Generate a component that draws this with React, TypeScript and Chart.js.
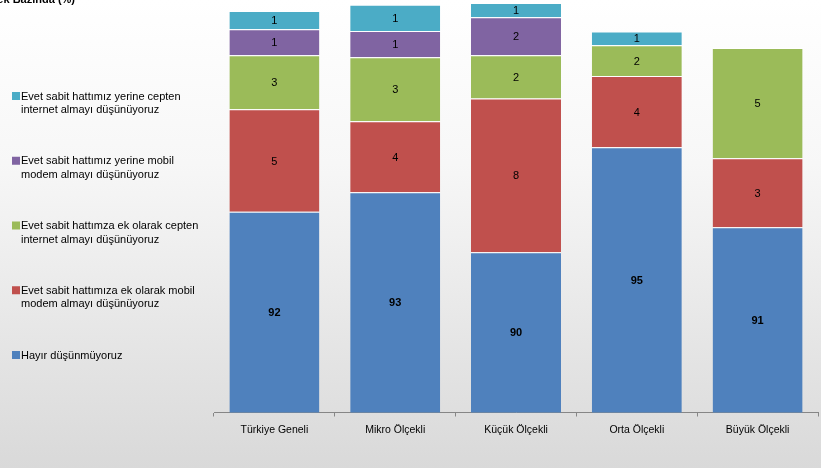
import React, { useEffect, useRef } from "react";
import { Chart, registerables } from "chart.js";

Chart.register(...registerables);

const categories = ["Türkiye Geneli", "Mikro Ölçekli", "Küçük Ölçekli", "Orta Ölçekli", "Büyük Ölçekli"];

const hayirDusunmuyoruz = [91.94, 92.9, 89.93, 95.13, 91.17];
const ekMobilModem = [5.07, 3.52, 7.62, 3.53, 3.42];
const ekCeptenInternet = [2.67, 3.17, 2.13, 1.52, 5.46];
const yerineMobilModem = [1.29, 1.3, 1.88, 0, 0];
const yerineCeptenInternet = [0.91, 1.29, 0.71, 0.68, 0];

const seriesNames = [
  ["Hayır düşünmüyoruz"],
  ["Evet sabit hattımıza ek olarak mobil", "modem almayı düşünüyoruz"],
  ["Evet sabit hattımza ek olarak cepten", "internet almayı düşünüyoruz"],
  ["Evet sabit hattımız yerine mobil", "modem almayı düşünüyoruz"],
  ["Evet sabit hattımız yerine cepten", "internet almayı düşünüyoruz"],
];

const seriesColors = ["#4F81BD", "#C0504D", "#9BBB59", "#8064A2", "#4BACC6"];

const titleText = "Ölçek Bazında (%)";
const yMin = 82;
const yMax = 102.42;

const FONT = "'Liberation Sans', Arial, sans-serif";

export default function App() {
  const ref = useRef<HTMLCanvasElement>(null);

  useEffect(() => {
    const canvas = ref.current;
    if (!canvas) return;

    const bgPlugin = {
      id: "bg",
      beforeDraw(chart: any) {
        const ctx = chart.ctx;
        const g = ctx.createLinearGradient(0, 0, 0, chart.height);
        g.addColorStop(0, "#ffffff");
        g.addColorStop(0.35, "#f7f7f7");
        g.addColorStop(1, "#d9d9d9");
        ctx.save();
        ctx.fillStyle = g;
        ctx.fillRect(0, 0, chart.width, chart.height);
        ctx.restore();
      },
    };

    const labelPlugin = {
      id: "labels",
      afterDatasetsDraw(chart: any) {
        const ctx = chart.ctx;
        const area = chart.chartArea;
        ctx.save();
        ctx.textAlign = "center";
        ctx.textBaseline = "middle";
        ctx.fillStyle = "#000";
        chart.data.datasets.forEach((ds: any, i: number) => {
          const meta = chart.getDatasetMeta(i);
          ctx.font = (i === 0 ? "bold " : "") + "11px " + FONT;
          meta.data.forEach((el: any, j: number) => {
            const v = ds.data[j];
            if (!v) return;
            const top = Math.max(el.y, area.top);
            const bottom = Math.min(el.base, area.bottom);
            ctx.fillText(String(Math.round(v)), el.x, (top + bottom) / 2 + 1);
          });
        });
        ctx.restore();
      },
    };

    const legendPlugin = {
      id: "customLegend",
      afterDraw(chart: any) {
        const ctx = chart.ctx;
        ctx.save();
        ctx.font = "11px " + FONT;
        ctx.textBaseline = "middle";
        ctx.textAlign = "left";
        const n = chart.data.datasets.length;
        for (let k = 0; k < n; k++) {
          const i = n - 1 - k;
          const ds = chart.data.datasets[i];
          const y0 = 92 + k * 64.75;
          ctx.fillStyle = ds.backgroundColor;
          ctx.fillRect(12, y0, 8, 8);
          ctx.fillStyle = "#000";
          seriesNames[i].forEach((line, li) => {
            ctx.fillText(line, 21, y0 + 4.5 + li * 13.5);
          });
        }
        // title (partly cut off at the top of the picture)
        ctx.font = "bold 11px " + FONT;
        ctx.textAlign = "right";
        ctx.textBaseline = "alphabetic";
        ctx.fillStyle = "#000";
        ctx.fillText(titleText, 75, 3);
        ctx.restore();
      },
    };

    const seriesData = [hayirDusunmuyoruz, ekMobilModem, ekCeptenInternet, yerineMobilModem, yerineCeptenInternet];

    const chart = new Chart(canvas, {
      type: "bar",
      data: {
        labels: categories,
        datasets: seriesData.map((d, i) => ({
          label: seriesNames[i].join(" "),
          data: d,
          backgroundColor: seriesColors[i],
          borderColor: "#ffffff",
          borderWidth: { top: 1, left: 0, right: 0, bottom: 0 },
          borderSkipped: false,
          barPercentage: 0.745,
          categoryPercentage: 1,
        })),
      },
      options: {
        animation: false,
        responsive: false,
        maintainAspectRatio: false,
        layout: { padding: { left: 214, right: 3, top: 0, bottom: 0 } },
        plugins: {
          legend: { display: false },
          title: { display: false },
          tooltip: { enabled: false },
        },
        scales: {
          x: {
            stacked: true,
            grid: {
              display: true,
              drawOnChartArea: false,
              drawTicks: true,
              tickLength: 4,
              color: "#868686",
              offset: true,
            },
            border: { display: true, color: "#868686" },
            ticks: {
              color: "#000",
              font: { family: FONT, size: 10.5 },
              padding: 7,
              maxRotation: 0,
              autoSkip: false,
            },
            afterFit: (s: any) => {
              s.height = 55.5;
            },
          },
          y: {
            stacked: true,
            display: false,
            min: yMin,
            max: yMax,
          },
        },
      },
      plugins: [bgPlugin, labelPlugin, legendPlugin],
    });

    return () => chart.destroy();
  }, []);

  return (
    <div style={{ position: "fixed", left: 0, top: 0, width: 821, height: 468 }}>
      <canvas ref={ref} width={821} height={468} style={{ display: "block" }} />
    </div>
  );
}
